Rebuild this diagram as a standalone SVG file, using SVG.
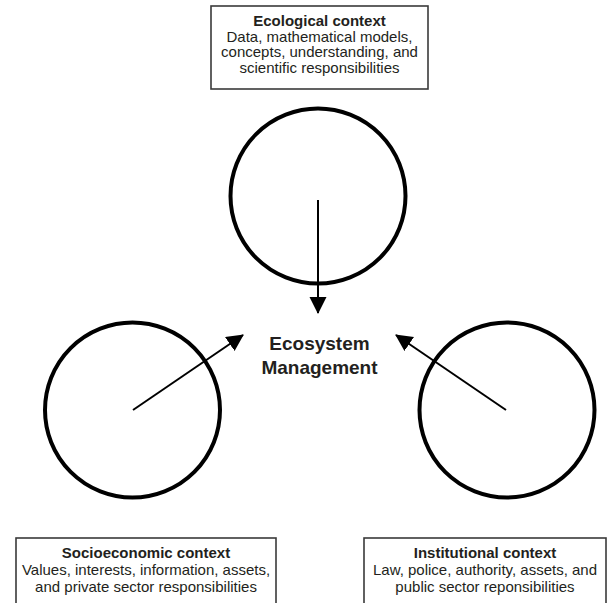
<svg xmlns="http://www.w3.org/2000/svg" width="609" height="603" viewBox="0 0 609 603">
<style>
.box{fill:#fff;stroke:#3a3a3a;stroke-width:1.6}
.circ{fill:none;stroke:#000;stroke-width:4}
.conn{stroke:#000;stroke-width:2;fill:none}
text{font-family:"Liberation Sans",Arial,sans-serif;fill:#231f20;text-anchor:middle}
.t{font-size:15px}
.b{font-weight:bold}
.c{font-size:19px;font-weight:bold}
</style>
<defs>
<marker id="ah" markerWidth="18" markerHeight="18" refX="16" refY="8.5" orient="auto" markerUnits="userSpaceOnUse">
<path d="M0,0 L17,8.5 L0,17 z" fill="#000"/>
</marker>
</defs>
<g id="ecological">
<rect class="box" x="211" y="6" width="217" height="83"/>
<text class="t" x="319.5" y="26"><tspan class="b">Ecological context</tspan><tspan x="319.5" dy="15.5">Data, mathematical models,</tspan><tspan x="319.5" dy="15.5">concepts, understanding, and</tspan><tspan x="319.5" dy="15.5">scientific responsibilities</tspan></text>
<circle class="circ" cx="318" cy="196" r="87.5"/>
</g>
<g id="socioeconomic">
<circle class="circ" cx="132.5" cy="410" r="87.5"/>
<rect class="box" x="16" y="538" width="260" height="70"/>
<text class="t" x="146" y="558"><tspan class="b">Socioeconomic context</tspan><tspan x="146" dy="17">Values, interests, information, assets,</tspan><tspan x="146" dy="17">and private sector responsibilities</tspan></text>
</g>
<g id="institutional">
<circle class="circ" cx="507" cy="410" r="87.5"/>
<rect class="box" x="364" y="538" width="242" height="70"/>
<text class="t" x="485" y="558"><tspan class="b">Institutional context</tspan><tspan x="485" dy="17">Law, police, authority, assets, and</tspan><tspan x="485" dy="17">public sector reponsibilities</tspan></text>
</g>
<g id="management">
<text class="c" x="319.5" y="350">Ecosystem</text>
<text class="c" x="319.5" y="374">Management</text>
</g>
<g id="connectors">
<line class="conn" x1="318" y1="200" x2="318" y2="313" marker-end="url(#ah)"/>
<line class="conn" x1="133" y1="410" x2="243" y2="335" marker-end="url(#ah)"/>
<line class="conn" x1="506" y1="410" x2="396" y2="335" marker-end="url(#ah)"/>
</g>
</svg>
